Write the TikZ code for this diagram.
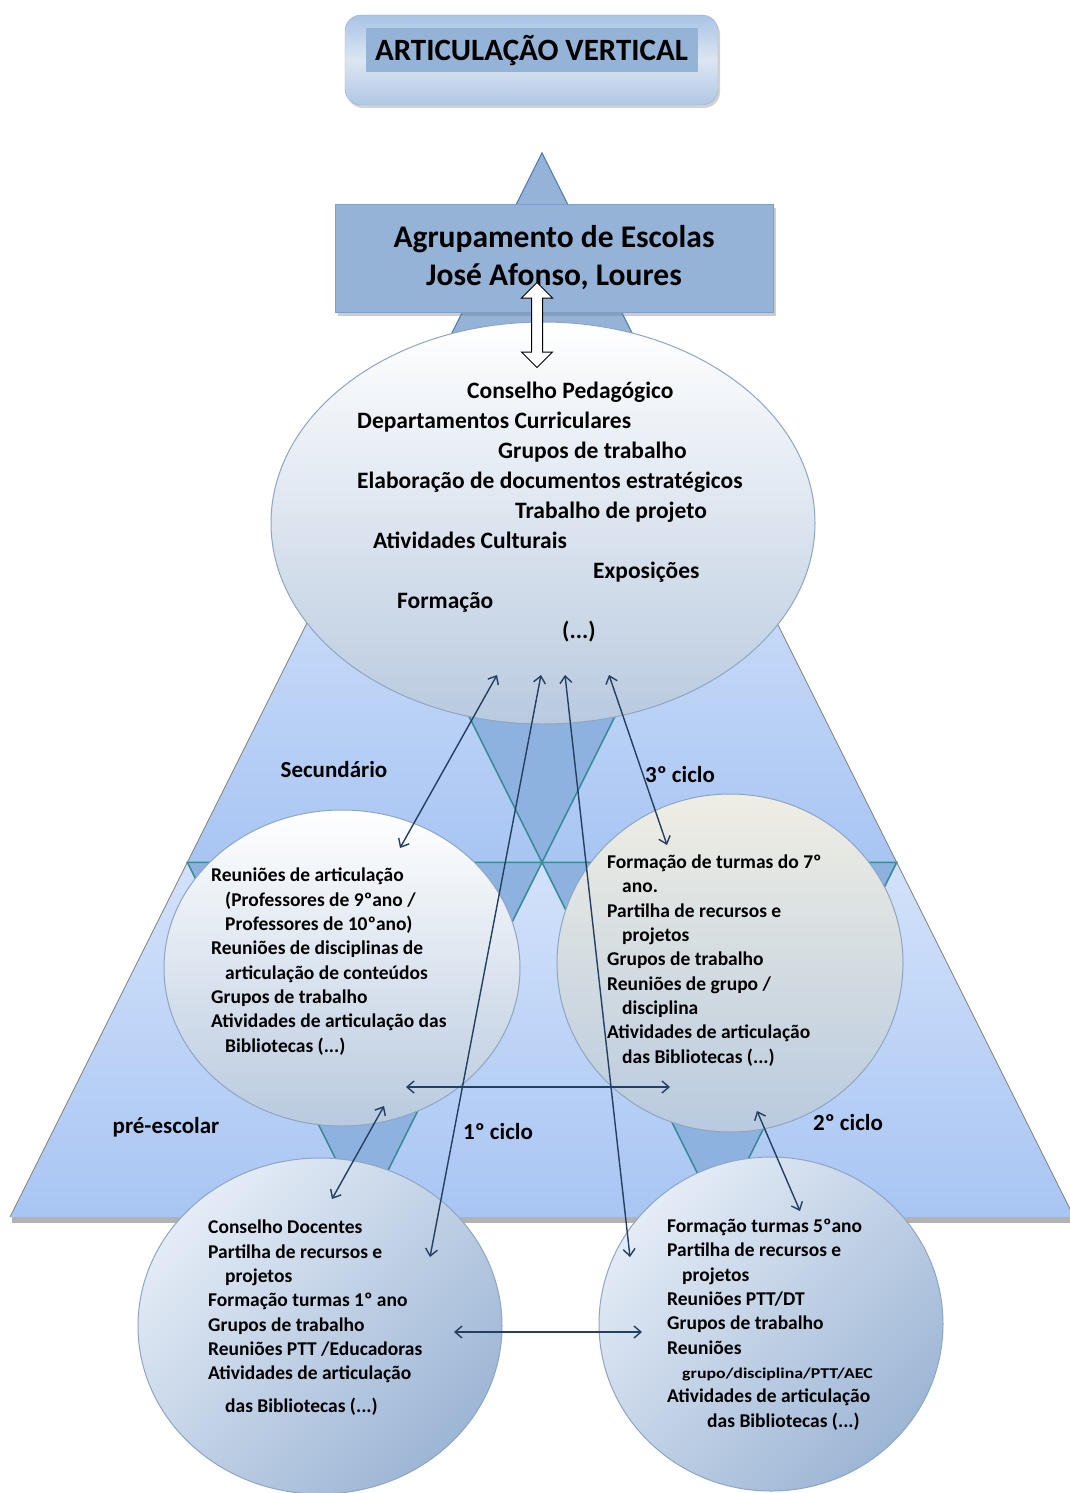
\documentclass[tikz,border=0pt]{standalone}
\usepackage{fontspec}
\setmainfont{Carlito}
\usetikzlibrary{arrows.meta, shapes.geometric, shapes.arrows, shadows, positioning}
\definecolor{boxTop}{HTML}{A9C3E6}
\definecolor{boxMid}{HTML}{DCE6F2}
\definecolor{boxBottom}{HTML}{B0C7E4}
\definecolor{boxEdge}{HTML}{95B3D7}
\definecolor{bannerBlue}{HTML}{95B3D7}
\definecolor{bannerEdge}{HTML}{7E9FCB}
\definecolor{pyrTop}{HTML}{D3E2FA}
\definecolor{pyrBottom}{HTML}{A8C5F3}
\definecolor{pyrInv}{HTML}{8EB2E0}
\definecolor{pyrTeal}{HTML}{3A8A97}
\definecolor{pyrEdge}{HTML}{7F7F7F}
\definecolor{apexBlue}{HTML}{95B3D7}
\definecolor{apexEdge}{HTML}{4A7EBB}
\definecolor{ovalEdge}{HTML}{8EA5C3}
\definecolor{ovalBottom}{HTML}{B9CADF}
\definecolor{creamTop}{HTML}{EFEEE3}
\definecolor{lowLight}{HTML}{E4ECF6}
\definecolor{lowDark}{HTML}{9DB6D5}
\definecolor{linkBlue}{HTML}{243F60}
\tikzstyle{aTitleBox} = [rectangle, rounded corners=16pt, minimum width=373pt, minimum height=90pt, draw=boxEdge, top color=boxTop, bottom color=boxBottom, middle color=boxMid, drop shadow={opacity=0.35, shadow xshift=2pt, shadow yshift=-3pt}]
\tikzstyle{aTitle} = [rectangle, minimum width=332pt, minimum height=44pt, fill=bannerBlue, font=\fontsize{31}{37}\selectfont\bfseries]
\tikzstyle{aBanner} = [rectangle, minimum width=438pt, minimum height=108pt, align=center, fill=bannerBlue, draw=bannerEdge, font=\fontsize{31.5}{38}\selectfont\bfseries, drop shadow={opacity=0.4, shadow xshift=3pt, shadow yshift=-4pt}]
\tikzstyle{aOval} = [ellipse, inner sep=0pt, draw=ovalEdge, line width=1pt, top color=white, bottom color=ovalBottom]
\tikzstyle{aCream} = [aOval, top color=creamTop]
\tikzstyle{aBubble} = [ellipse, inner sep=0pt, draw=ovalEdge, line width=1pt, top color=lowLight, bottom color=lowDark, shading angle=45]
\tikzstyle{aText} = [anchor=base west, align=left, inner sep=0pt, font=\fontsize{19.5}{24.3}\selectfont\bfseries]
\tikzstyle{aLabel} = [font=\fontsize{23}{27}\selectfont\bfseries]
\tikzstyle{aLink} = [draw=linkBlue, line width=1.4pt, <->, >={Straight Barb[length=7pt, width=12pt]}]
\tikzstyle{aUp} = [top color=pyrTop, bottom color=pyrBottom]
\tikzstyle{aDown} = [fill=pyrInv, draw=pyrTeal, line width=1.6pt]

\begin{document}
\begin{tikzpicture}[x=1pt, y=-1pt]
    \fill[white] (0,0) rectangle (1070,1493);
    \useasboundingbox (0,0) rectangle (1070,1493);

    \fill[black!30] (12,1217) rectangle (1074,1223);
    \path[aUp] (364.7,507.7) -- (187.3,862.3) -- (542,862.3) -- cycle;
    \path[aUp] (719.3,507.7) -- (542,862.3) -- (896.7,862.3) -- cycle;
    \path[aUp] (187.3,862.3) -- (10,1217) -- (364.7,1217) -- cycle;
    \path[aUp] (542,862.3) -- (364.7,1217) -- (719.3,1217) -- cycle;
    \path[aUp] (896.7,862.3) -- (719.3,1217) -- (1074,1217) -- cycle;
    \path[aDown] (364.7,507.7) -- (719.3,507.7) -- (542,862.3) -- cycle;
    \path[aDown] (187.3,862.3) -- (542,862.3) -- (364.7,1217) -- cycle;
    \path[aDown] (542,862.3) -- (896.7,862.3) -- (719.3,1217) -- cycle;
    \draw[pyrEdge, line width=0.8pt] (10,1217) -- (542,153) -- (1074,1217);
    \path[fill=apexBlue, draw=apexEdge, line width=1pt] (542,153) -- (364.7,507.7) -- (719.3,507.7) -- cycle;

    \node (titleBox) [aTitleBox] at (531.5,60) {};
    \node (title) [aTitle] at ([yshift=10pt]titleBox.center) {ARTICULAÇÃO VERTICAL};
    \node (agrup) [aBanner] at (554,258) {Agrupamento de Escolas\\ José Afonso, Loures};

    \node (conselho) [aOval, minimum width=544pt, minimum height=402pt] at (543,523) {};
    \node (reunioes) [aOval, minimum width=356pt, minimum height=316pt] at (342,968) {};
    \node (turmas7) [aCream, minimum width=346pt, minimum height=338pt] at (730,963) {};
    \node (docentes) [aBubble, minimum width=364pt, minimum height=336pt] at (320,1326) {};
    \node (turmas5) [aBubble, minimum width=344pt, minimum height=334pt] at (771,1324) {};

    \node (vertLink) [double arrow, draw=black, fill=white, line width=1pt, rotate=90, minimum height=85pt, inner sep=5pt, double arrow head extend=10pt] at (537,325) {};

    \node (secundario) [aLabel] at (334,770) {Secundário};
    \node (ciclo3) [aLabel] at (680,775) {3º ciclo};
    \node (preEscolar) [aLabel] at (166,1127) {pré-escolar};
    \node (ciclo1) [aLabel] at (498,1132) {1º ciclo};
    \node (ciclo2) [aLabel] at (848,1123) {2º ciclo};

    \node (conselhoText) [aText, font=\fontsize{23.5}{29.9}\selectfont\bfseries] at (357,638) {\hspace*{110pt}Conselho Pedagógico\\ Departamentos Curriculares\\ \hspace*{141pt}Grupos de trabalho\\ Elaboração de documentos estratégicos\\ \hspace*{158pt}Trabalho de projeto\\ \hspace*{16pt}Atividades Culturais\\ \hspace*{236pt}Exposições\\ \hspace*{40pt}Formação\\ \hspace*{205pt}(...)};
    \node (reunioesText) [aText] at (211,1052) {Reuniões de articulação\\ \hspace*{14pt}(Professores de 9ºano /\\ \hspace*{14pt}Professores de 10ºano)\\ Reuniões de disciplinas de\\ \hspace*{14pt}articulação de conteúdos\\ Grupos de trabalho\\ Atividades de articulação das\\ \hspace*{14pt}Bibliotecas (...)};
    \node (turmas7Text) [aText] at (607,1063) {Formação de turmas do 7º\\ \hspace*{15pt}ano.\\ Partilha de recursos e\\ \hspace*{15pt}projetos\\ Grupos de trabalho\\ Reuniões de grupo /\\ \hspace*{15pt}disciplina\\ Atividades de articulação\\ \hspace*{15pt}das Bibliotecas (...)};
    \node (docentesText) [aText] at (208,1412) {Conselho Docentes\\ Partilha de recursos e\\ \hspace*{17pt}projetos\\ Formação turmas 1º ano\\ Grupos de trabalho\\ Reuniões PTT /Educadoras\\ Atividades de articulação\\[8pt] \hspace*{17pt}das Bibliotecas (...)};
    \node (turmas5Text) [aText] at (667,1427) {Formação turmas 5ºano\\ Partilha de recursos e\\ \hspace*{15pt}projetos\\ Reuniões PTT/DT\\ Grupos de trabalho\\ Reuniões\\ \hspace*{15pt}\scalebox{1.19}[1]{\fontsize{15}{24.3}\selectfont grupo/disciplina/PTT/AEC}\\ Atividades de articulação\\ \hspace*{40pt}das Bibliotecas (...)};

    \coordinate (cpSec) at (497,675);
    \coordinate (cpDoc) at (541,675);
    \coordinate (cpT5) at (565,675);
    \coordinate (cpT7) at (609,675);
    \coordinate (reuTop) at (400,848);
    \coordinate (reuRight) at (406,1087);
    \coordinate (reuLow) at (384,1106);
    \coordinate (t7Top) at (667,845);
    \coordinate (t7Left) at (670,1087);
    \coordinate (t7Low) at (757,1111);
    \coordinate (docTop) at (332,1199);
    \coordinate (docIn) at (430,1257);
    \coordinate (docRight) at (454,1332);
    \coordinate (t5Top) at (800,1211);
    \coordinate (t5In) at (630,1257);
    \coordinate (t5Left) at (642,1332);

    \draw [aLink] (cpSec) -- (reuTop);
    \draw [aLink] (cpDoc) -- (docIn);
    \draw [aLink] (cpT5) -- (t5In);
    \draw [aLink] (cpT7) -- (t7Top);
    \draw [aLink] (reuRight) -- (t7Left);
    \draw [aLink] (reuLow) -- (docTop);
    \draw [aLink] (t7Low) -- (t5Top);
    \draw [aLink] (docRight) -- (t5Left);
\end{tikzpicture}
\end{document}
